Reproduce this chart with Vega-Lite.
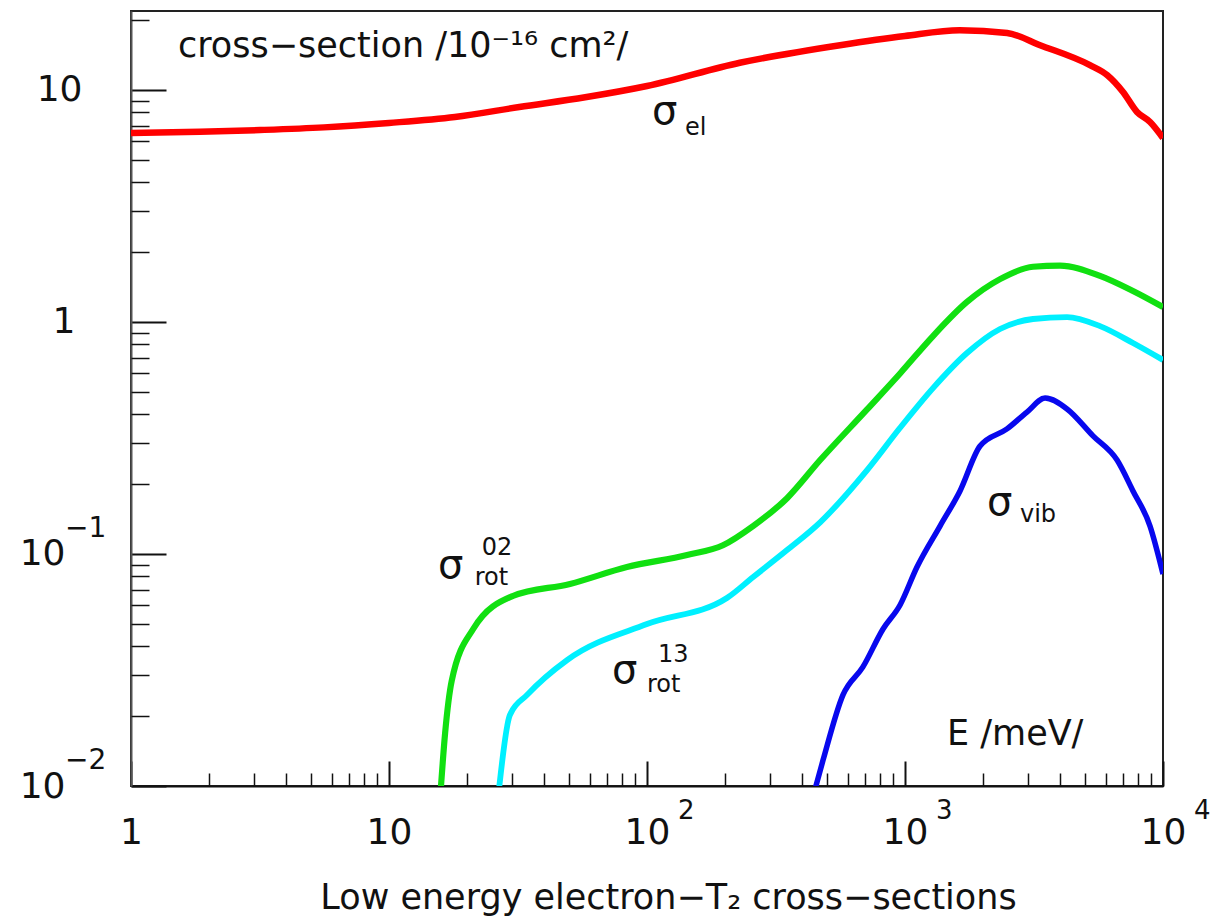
{
  "$schema": "https://vega.github.io/schema/vega-lite/v6.json",
  "width": 1032,
  "height": 775,
  "autosize": {"type": "none"},
  "padding": {"left": 131, "top": 11, "right": 52, "bottom": 130},
  "background": "white",
  "config": {
    "view": {"stroke": "#222", "strokeWidth": 2},
    "font": "DejaVu Sans",
    "text": {"font": "DejaVu Sans", "color": "#111"}
  },
  "datasets": {
    "curves": [
      {"E": 1, "s": 6.53, "curve": "el"},
      {"E": 1.85, "s": 6.6, "curve": "el"},
      {"E": 3.16, "s": 6.72, "curve": "el"},
      {"E": 5.6, "s": 6.9, "curve": "el"},
      {"E": 10, "s": 7.21, "curve": "el"},
      {"E": 18, "s": 7.65, "curve": "el"},
      {"E": 32, "s": 8.45, "curve": "el"},
      {"E": 57.6, "s": 9.3, "curve": "el"},
      {"E": 100, "s": 10.4, "curve": "el"},
      {"E": 229, "s": 13.1, "curve": "el"},
      {"E": 560, "s": 15.6, "curve": "el"},
      {"E": 1000, "s": 17.1, "curve": "el"},
      {"E": 1630, "s": 18.1, "curve": "el"},
      {"E": 2490, "s": 17.6, "curve": "el"},
      {"E": 3340, "s": 15.6, "curve": "el"},
      {"E": 5210, "s": 12.8, "curve": "el"},
      {"E": 6070, "s": 11.6, "curve": "el"},
      {"E": 7000, "s": 9.8, "curve": "el"},
      {"E": 7930, "s": 8.04, "curve": "el"},
      {"E": 8910, "s": 7.28, "curve": "el"},
      {"E": 10000, "s": 6.21, "curve": "el"},

      {"E": 15.8, "s": 0.009, "curve": "rot02"},
      {"E": 16.5, "s": 0.0169, "curve": "rot02"},
      {"E": 17.5, "s": 0.0284, "curve": "rot02"},
      {"E": 21.2, "s": 0.0475, "curve": "rot02"},
      {"E": 30.2, "s": 0.0659, "curve": "rot02"},
      {"E": 50.3, "s": 0.0743, "curve": "rot02"},
      {"E": 83.6, "s": 0.0879, "curve": "rot02"},
      {"E": 143, "s": 0.099, "curve": "rot02"},
      {"E": 197, "s": 0.109, "curve": "rot02"},
      {"E": 258, "s": 0.132, "curve": "rot02"},
      {"E": 349, "s": 0.174, "curve": "rot02"},
      {"E": 469, "s": 0.254, "curve": "rot02"},
      {"E": 713, "s": 0.42, "curve": "rot02"},
      {"E": 957, "s": 0.6, "curve": "rot02"},
      {"E": 1284, "s": 0.87, "curve": "rot02"},
      {"E": 1739, "s": 1.22, "curve": "rot02"},
      {"E": 2335, "s": 1.53, "curve": "rot02"},
      {"E": 3134, "s": 1.73, "curve": "rot02"},
      {"E": 3990, "s": 1.75, "curve": "rot02"},
      {"E": 5700, "s": 1.58, "curve": "rot02"},
      {"E": 7650, "s": 1.36, "curve": "rot02"},
      {"E": 10000, "s": 1.16, "curve": "rot02"},

      {"E": 26.5, "s": 0.009, "curve": "rot13"},
      {"E": 29.4, "s": 0.0202, "curve": "rot13"},
      {"E": 34.3, "s": 0.0247, "curve": "rot13"},
      {"E": 49, "s": 0.0349, "curve": "rot13"},
      {"E": 100, "s": 0.0499, "curve": "rot13"},
      {"E": 204, "s": 0.0646, "curve": "rot13"},
      {"E": 258, "s": 0.0796, "curve": "rot13"},
      {"E": 349, "s": 0.104, "curve": "rot13"},
      {"E": 469, "s": 0.137, "curve": "rot13"},
      {"E": 713, "s": 0.23, "curve": "rot13"},
      {"E": 957, "s": 0.35, "curve": "rot13"},
      {"E": 1284, "s": 0.519, "curve": "rot13"},
      {"E": 1739, "s": 0.735, "curve": "rot13"},
      {"E": 2335, "s": 0.933, "curve": "rot13"},
      {"E": 3134, "s": 1.03, "curve": "rot13"},
      {"E": 4246, "s": 1.05, "curve": "rot13"},
      {"E": 5700, "s": 0.96, "curve": "rot13"},
      {"E": 7650, "s": 0.812, "curve": "rot13"},
      {"E": 10000, "s": 0.686, "curve": "rot13"},

      {"E": 440, "s": 0.009, "curve": "vib"},
      {"E": 481, "s": 0.0129, "curve": "vib"},
      {"E": 575, "s": 0.0247, "curve": "vib"},
      {"E": 687, "s": 0.0326, "curve": "vib"},
      {"E": 822, "s": 0.0475, "curve": "vib"},
      {"E": 957, "s": 0.0603, "curve": "vib"},
      {"E": 1113, "s": 0.0879, "curve": "vib"},
      {"E": 1367, "s": 0.132, "curve": "vib"},
      {"E": 1634, "s": 0.187, "curve": "vib"},
      {"E": 1954, "s": 0.292, "curve": "vib"},
      {"E": 2485, "s": 0.346, "curve": "vib"},
      {"E": 2970, "s": 0.409, "curve": "vib"},
      {"E": 3490, "s": 0.47, "curve": "vib"},
      {"E": 4246, "s": 0.422, "curve": "vib"},
      {"E": 5354, "s": 0.323, "curve": "vib"},
      {"E": 6637, "s": 0.254, "curve": "vib"},
      {"E": 7650, "s": 0.187, "curve": "vib"},
      {"E": 8906, "s": 0.132, "curve": "vib"},
      {"E": 10000, "s": 0.082, "curve": "vib"}
    ],
    "xexp": [
      {"E": 100, "s": 0.01, "t": "2"},
      {"E": 1000, "s": 0.01, "t": "3"},
      {"E": 10000, "s": 0.01, "t": "4"}
    ],
    "yexp": [
      {"E": 1, "s": 0.01, "t": "−2"},
      {"E": 1, "s": 0.1, "t": "−1"}
    ],
    "mainText": [
      {"E": 1.521, "s": 13.88, "t": "cross−section /10⁻¹⁶ cm²/"},
      {"E": 1455, "s": 0.01502, "t": "E /meV/"}
    ],
    "sigma": [
      {"E": 104.6, "s": 7.14, "t": "σ"},
      {"E": 15.5, "s": 0.0788, "t": "σ"},
      {"E": 73.2, "s": 0.0278, "t": "σ"},
      {"E": 2079, "s": 0.1473, "t": "σ"}
    ],
    "scripts": [
      {"E": 140.4, "s": 6.4, "t": "el"},
      {"E": 22.9, "s": 0.099, "t": "02"},
      {"E": 21.5, "s": 0.0735, "t": "rot"},
      {"E": 110.3, "s": 0.0342, "t": "13"},
      {"E": 100, "s": 0.0254, "t": "rot"},
      {"E": 2790, "s": 0.1374, "t": "vib"}
    ]
  },
  "layer": [
    {
      "data": {"name": "curves"},
      "mark": {"type": "line", "clip": true, "interpolate": "monotone"},
      "encoding": {
        "x": {
          "field": "E", "type": "quantitative",
          "scale": {"type": "log", "domain": [1, 10000], "nice": false},
          "axis": {
            "orient": "bottom",
            "values": [1, 10, 100, 1000, 10000],
            "labelExpr": "datum.value < 5 ? '1' : '10'",
            "grid": false,
            "tickSize": -25, "tickWidth": 2, "tickColor": "#111",
            "domainColor": "#111", "domainWidth": 2,
            "labelFont": "DejaVu Sans", "labelFontSize": 36, "labelColor": "#111",
            "labelPadding": 82, "labelBaseline": "alphabetic", "labelAlign": "center",
            "labelFlush": false, "labelOverlap": false, "labelBound": false,
            "title": "Low energy electron−T₂ cross−sections",
            "titleFont": "DejaVu Sans", "titleFontSize": 35, "titleFontWeight": "normal",
            "titleColor": "#111", "titleY": 122, "titleX": 537, "titleAlign": "center",
            "titleBaseline": "alphabetic"
          }
        },
        "y": {
          "field": "s", "type": "quantitative",
          "scale": {"type": "log", "domain": [0.01, 21.9], "nice": false},
          "axis": {
            "orient": "left",
            "values": [0.01, 0.1, 1, 10],
            "labelExpr": "datum.value < 0.5 ? '10' : (datum.value < 5 ? '1' : '10')",
            "grid": false,
            "tickSize": -35, "tickWidth": 2, "tickColor": "#111",
            "domainColor": "#555", "domainWidth": 2,
            "labelFont": "DejaVu Sans", "labelFontSize": 36, "labelColor": "#111",
            "labelPadding": {
              "condition": [
                {"test": "datum.value < 0.5", "value": 101},
                {"test": "datum.value < 5", "value": 91}
              ],
              "value": 84
            },
            "labelBaseline": "middle", "labelAlign": "right",
            "labelFlush": false, "labelOverlap": false, "labelBound": false,
            "title": null
          }
        },
        "color": {
          "field": "curve", "type": "nominal",
          "scale": {"domain": ["el", "rot02", "rot13", "vib"], "range": ["#ff0000", "#11e011", "#00f0ff", "#0808ee"]},
          "legend": null
        },
        "strokeWidth": {
          "field": "curve", "type": "nominal",
          "scale": {"domain": ["el", "rot02", "rot13", "vib"], "range": [6.5, 5.5, 5.5, 6.5]},
          "legend": null
        }
      }
    },
    {
      "data": {"name": "curves"},
      "mark": {"type": "point", "opacity": 0},
      "encoding": {
        "x": {
          "field": "E", "type": "quantitative",
          "scale": {"type": "log", "domain": [1, 10000], "nice": false},
          "axis": {
            "orient": "bottom",
            "values": [2, 3, 4, 5, 6, 7, 8, 9, 20, 30, 40, 50, 60, 70, 80, 90, 200, 300, 400, 500, 600, 700, 800, 900, 2000, 3000, 4000, 5000, 6000, 7000, 8000, 9000],
            "labels": false, "domain": false, "grid": false, "title": null,
            "tickSize": -13, "tickWidth": 1.5, "tickColor": "#111"
          }
        },
        "y": {
          "field": "s", "type": "quantitative",
          "scale": {"type": "log", "domain": [0.01, 21.9], "nice": false},
          "axis": {
            "orient": "left",
            "values": [0.02, 0.03, 0.04, 0.05, 0.06, 0.07, 0.08, 0.09, 0.2, 0.3, 0.4, 0.5, 0.6, 0.7, 0.8, 0.9, 2, 3, 4, 5, 6, 7, 8, 9, 20],
            "labels": false, "domain": false, "grid": false, "title": null,
            "tickSize": -18, "tickWidth": 1.5, "tickColor": "#111"
          }
        }
      }
    },
    {
      "data": {"name": "xexp"},
      "mark": {"type": "text", "align": "left", "baseline": "alphabetic", "dx": 31, "dy": 33, "fontSize": 26},
      "encoding": {
        "x": {"field": "E", "type": "quantitative", "scale": {"type": "log", "domain": [1, 10000], "nice": false}, "axis": null},
        "y": {"field": "s", "type": "quantitative", "scale": {"type": "log", "domain": [0.01, 21.9], "nice": false}, "axis": null},
        "text": {"field": "t"}
      }
    },
    {
      "data": {"name": "yexp"},
      "mark": {"type": "text", "align": "left", "baseline": "middle", "dx": -66, "dy": -25, "fontSize": 28},
      "encoding": {
        "x": {"field": "E", "type": "quantitative", "scale": {"type": "log", "domain": [1, 10000], "nice": false}, "axis": null},
        "y": {"field": "s", "type": "quantitative", "scale": {"type": "log", "domain": [0.01, 21.9], "nice": false}, "axis": null},
        "text": {"field": "t"}
      }
    },
    {
      "data": {"name": "mainText"},
      "mark": {"type": "text", "align": "left", "baseline": "alphabetic", "fontSize": 35},
      "encoding": {
        "x": {"field": "E", "type": "quantitative", "scale": {"type": "log", "domain": [1, 10000], "nice": false}, "axis": null},
        "y": {"field": "s", "type": "quantitative", "scale": {"type": "log", "domain": [0.01, 21.9], "nice": false}, "axis": null},
        "text": {"field": "t"}
      }
    },
    {
      "data": {"name": "sigma"},
      "mark": {"type": "text", "align": "left", "baseline": "alphabetic", "fontSize": 40},
      "encoding": {
        "x": {"field": "E", "type": "quantitative", "scale": {"type": "log", "domain": [1, 10000], "nice": false}, "axis": null},
        "y": {"field": "s", "type": "quantitative", "scale": {"type": "log", "domain": [0.01, 21.9], "nice": false}, "axis": null},
        "text": {"field": "t"}
      }
    },
    {
      "data": {"name": "scripts"},
      "mark": {"type": "text", "align": "left", "baseline": "alphabetic", "fontSize": 24},
      "encoding": {
        "x": {"field": "E", "type": "quantitative", "scale": {"type": "log", "domain": [1, 10000], "nice": false}, "axis": null},
        "y": {"field": "s", "type": "quantitative", "scale": {"type": "log", "domain": [0.01, 21.9], "nice": false}, "axis": null},
        "text": {"field": "t"}
      }
    }
  ],
  "resolve": {"axis": {"x": "independent", "y": "independent"}}
}
